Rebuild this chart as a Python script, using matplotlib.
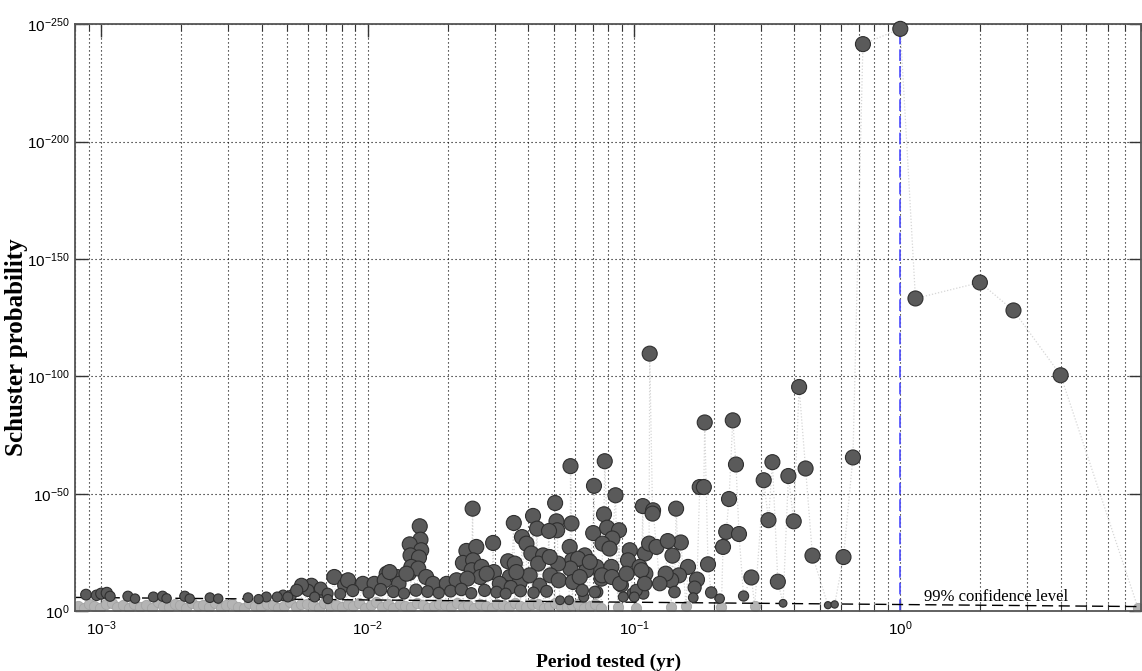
import numpy as np
import matplotlib
matplotlib.use("Agg")
import matplotlib.pyplot as plt
from matplotlib.ticker import LogLocator, FixedLocator, NullFormatter

plt.rcParams["mathtext.fontset"] = "custom"
plt.rcParams["mathtext.rm"] = "Liberation Sans"
plt.rcParams["font.family"] = "Liberation Sans"

# periods significant at the 99% level (yr) and -log10 of the Schuster probability
dark_period = [
    1.00, 0.724, 1.14, 1.99, 2.66, 4.00, 0.417, 0.1146, 0.1844, 0.235,
    0.2416, 0.331, 0.307, 0.380, 0.441, 0.664, 0.1766, 0.183, 0.2275, 0.144,
    0.108, 0.118, 0.1175, 0.320, 0.398, 0.222, 0.248, 0.216, 0.468, 0.612,
    0.150, 0.1395, 0.1596, 0.1897, 0.276, 0.347, 0.1725, 0.169, 0.1476, 0.138,
    0.1316, 0.125, 0.142, 0.195, 0.210, 0.167, 0.258, 0.363, 0.535, 0.567,
    0.110, 0.1104, 0.1085,
    0.0578, 0.0777, 0.0708, 0.0853, 0.0506, 0.0583, 0.0512, 0.0515, 0.0772, 0.0703,
    0.0793, 0.0879, 0.0830, 0.0762, 0.0574, 0.0965, 0.0950, 0.114, 0.1215, 0.134,
    0.105, 0.0898, 0.0987, 0.0723, 0.0823, 0.0755, 0.0644, 0.0663, 0.0586, 0.0727,
    0.0648, 0.0571, 0.0528, 0.0418, 0.0354, 0.0433, 0.0480, 0.0380, 0.0395, 0.0412,
    0.0456, 0.0437, 0.0337, 0.0357, 0.0342, 0.0332, 0.0373, 0.0406, 0.0810, 0.0654,
    0.0617, 0.0683, 0.0577, 0.0519, 0.0483, 0.0443, 0.0486, 0.0522, 0.0590, 0.0626,
    0.0640, 0.0713, 0.0759, 0.0826, 0.0885, 0.0938, 0.102, 0.1067, 0.1098, 0.0912,
    0.1003,
    0.0248, 0.0157, 0.0158, 0.0144, 0.0159, 0.0145, 0.0156, 0.0143, 0.0146, 0.0155,
    0.0166, 0.0176, 0.0296, 0.0235, 0.0256, 0.0228, 0.0249, 0.0246, 0.0268, 0.0265,
    0.0298, 0.0362, 0.0075, 0.0082, 0.00845, 0.0096, 0.0106, 0.0118, 0.0116, 0.0129,
    0.0131, 0.0121, 0.0140, 0.0198, 0.0216, 0.0237, 0.0280, 0.0313, 0.0345,
    0.0068, 0.0079, 0.0088, 0.0101, 0.0112, 0.0125, 0.0137, 0.0152, 0.0168, 0.0185,
    0.0205, 0.0225, 0.0245, 0.0275, 0.0305, 0.0330, 0.0375, 0.0420, 0.0470,
    0.00573, 0.00616, 0.00598, 0.00565, 0.00667, 0.00708, 0.00482, 0.00517, 0.00542, 0.00417,
    0.00458, 0.000877, 0.00096, 0.00100, 0.00105, 0.00108, 0.00126, 0.00134, 0.00157, 0.00170,
    0.00176, 0.00206, 0.00215, 0.00256, 0.00275, 0.00356, 0.00390, 0.00502, 0.00633, 0.00710,
]
dark_level = [
    248, 241.5, 133.2, 140.0, 128.1, 100.5, 95.5, 109.7, 80.4, 81.3,
    62.5, 63.5, 55.8, 57.6, 60.8, 65.5, 52.9, 52.9, 47.8, 43.7,
    44.8, 43.0, 41.6, 38.8, 38.3, 33.8, 32.9, 27.4, 23.7, 23.1,
    29.3, 23.7, 18.9, 20.0, 14.4, 12.6, 13.5, 10.1, 15.3, 13.2,
    16.0, 11.8, 8.2, 8.0, 5.4, 5.8, 6.5, 3.4, 2.6, 2.9,
    24.6, 16.0, 7.5,
    61.8, 63.9, 53.4, 49.4, 46.1, 37.4, 38.3, 34.5, 41.3, 33.3,
    35.6, 34.5, 31.0, 28.8, 27.4, 26.0, 21.7, 28.8, 27.4, 29.9,
    18.9, 11.1, 7.5, 18.9, 18.9, 13.9, 21.7, 17.5, 21.7, 8.2,
    6.1, 4.7, 4.7, 40.6, 37.6, 35.2, 34.2, 31.6, 28.8, 24.6,
    23.8, 20.3, 21.3, 20.3, 14.6, 10.3, 12.5, 15.3, 26.7, 23.8,
    22.4, 21.0, 18.2, 20.3, 23.1, 11.1, 15.3, 13.2, 12.5, 14.6,
    8.9, 8.2, 15.3, 14.6, 11.8, 16.0, 8.9, 17.5, 11.8, 6.1,
    6.1,
    43.7, 36.2, 30.5, 28.5, 26.0, 23.8, 22.9, 16.3, 18.9, 18.2,
    14.6, 11.8, 29.1, 25.7, 27.4, 20.6, 21.7, 17.5, 18.9, 14.6,
    16.7, 16.7, 14.6, 11.1, 13.2, 11.8, 11.8, 16.0, 13.2, 14.6,
    11.8, 16.7, 16.0, 11.8, 13.2, 13.9, 16.0, 11.8, 10.3,
    8.1, 7.4, 8.8, 7.9, 9.2, 8.3, 7.6, 9.0, 8.4, 7.8,
    8.6, 9.3, 7.7, 8.9, 8.2, 7.5, 8.7, 7.9, 8.5,
    10.3, 11.1, 8.9, 11.1, 9.7, 7.5, 6.8, 6.8, 8.9, 6.1,
    6.1, 7.1, 6.8, 7.5, 7.8, 6.4, 6.4, 5.4, 6.1, 6.4,
    5.5, 6.4, 5.4, 5.8, 5.4, 5.8, 5.2, 6.1, 6.1, 5.2,
]

# periods below the confidence level
light_period = [
    0.00082, 0.00086, 0.00090, 0.00094, 0.00099, 0.00104, 0.00110, 0.00115, 0.00121, 0.00127,
    0.00133, 0.00140, 0.00147, 0.00155, 0.00163, 0.00171, 0.00180, 0.00189, 0.00198, 0.00208,
    0.00219, 0.00230, 0.00242, 0.00254, 0.00267, 0.00281, 0.00295, 0.00310, 0.00326, 0.00343,
    0.00360, 0.00379, 0.00398, 0.00418, 0.00440, 0.00462, 0.00486, 0.00511, 0.00537, 0.00564,
    0.00593, 0.00624, 0.00655, 0.00689, 0.00724, 0.00761, 0.00800, 0.00841, 0.00884, 0.00929,
    0.00977, 0.0103, 0.0108, 0.0113, 0.0119, 0.0125, 0.0132, 0.0138, 0.0145, 0.0153,
    0.0161, 0.0169, 0.0177, 0.0186, 0.0196, 0.0206, 0.0217, 0.0228, 0.0239, 0.0252,
    0.0264, 0.0278, 0.0292, 0.0307, 0.0323, 0.0339, 0.0357, 0.0375, 0.0394, 0.0414,
    0.0435, 0.0458, 0.0481, 0.0506, 0.0531, 0.0559, 0.0587, 0.0617, 0.0649, 0.0682,
    0.0717, 0.0753, 0.0870, 0.102, 0.138, 0.157, 0.213, 0.284, 7.8,
]
light_level = [
    2.4, 1.6, 3.1, 2.2, 1.3, 2.9, 3.6, 1.9, 2.6, 1.2,
    3.3, 2.0, 2.7, 1.5, 3.8, 2.3, 1.7, 3.0, 2.5, 1.4,
    3.4, 2.1, 2.8, 1.8, 3.5, 1.3, 2.6, 3.1, 2.0, 1.6,
    3.7, 2.4, 1.9, 3.2, 2.7, 1.5, 2.2, 3.9, 1.8, 2.9,
    3.3, 2.5, 1.4, 3.6, 2.1, 2.8, 1.7, 3.0, 2.3, 3.5,
    1.6, 2.6, 3.8, 2.0, 2.9, 1.5, 3.2, 2.4, 1.9, 3.4,
    2.7, 1.3, 2.2, 3.1, 2.5, 1.8, 3.7, 2.0, 2.8, 1.6,
    3.3, 2.3, 1.4, 3.0, 2.6, 1.9, 3.5, 2.1, 1.7, 2.9,
    3.2, 1.5, 2.4, 3.6, 2.0, 1.8, 2.7, 3.1, 1.6, 2.3,
    2.9, 1.4, 1.8, 1.6, 2.0, 2.3, 1.7, 2.2, 1.5,
]

# 99% confidence level at the ends of the period range
conf_period = [8e-4, 8.0]
conf_level = [5.9, 2.0]

peak_period = 1.0
ytick_vals = [0, 50, 100, 150, 200, 250]
xtick_vals = [1e-3, 1e-2, 1e-1, 1e0]

fig = plt.figure(figsize=(11.42, 6.71), dpi=100)
ax = fig.add_axes([0.066, 0.089, 0.933, 0.875])
ax.set_xscale("log")
ax.set_xlim(8e-4, 8.0)
ax.set_ylim(0, 250)

# grid
dots = (0, (1, 2.6))
ax.xaxis.set_major_locator(FixedLocator(xtick_vals))
ax.xaxis.set_minor_locator(LogLocator(base=10, subs=np.arange(2, 10), numticks=20))
ax.xaxis.set_minor_formatter(NullFormatter())
ax.set_xticks(xtick_vals)
ax.set_xticklabels([r"$\mathregular{10^{%d}}$" % int(np.log10(v)) for v in xtick_vals])
ax.set_yticks(ytick_vals)
ax.set_yticklabels([r"$\mathregular{10^{%d}}$" % (-v) if v else r"$\mathregular{10^{0}}$"
                    for v in ytick_vals])
ax.grid(True, which="major", color="black", linestyle=dots, linewidth=0.8)
ax.grid(True, which="minor", axis="x", color="black", linestyle=dots, linewidth=0.8)
ax.set_axisbelow(True)

ax.tick_params(which="both", direction="in", top=True, right=True, labelsize=11,
               color="#333333")
ax.tick_params(which="major", length=9, width=1.0, pad=6)
ax.tick_params(which="minor", length=5, width=0.8)
ax.tick_params(axis="y", pad=4)
for s in ax.spines.values():
    s.set_color("#555555")
    s.set_linewidth(1.3)

# all tested periods joined in order
all_p = np.array(dark_period + light_period)
all_v = np.array(dark_level + light_level)
order = np.argsort(all_p)
ax.plot(all_p[order], all_v[order], color="#d6d6d6", linestyle=(0, (1, 1.5)),
        linewidth=0.9, zorder=1.5)

ax.axvline(peak_period, color="#4b4bff", linestyle=(0, (7, 3)), linewidth=1.2, zorder=1.8)

ax.scatter(light_period, light_level, s=55, facecolor="#b4b4b4", edgecolor="#a4a4a4",
           linewidth=0.6, zorder=2)

ax.plot(conf_period, conf_level, color="black", linestyle=(0, (8, 4)), linewidth=1.0,
        zorder=2.5)
ax.text(1.23, 6.0, "99% confidence level", family="Liberation Serif", fontsize=12,
        ha="left", va="center", zorder=4)

dv = np.array(dark_level)
diam = np.minimum(15, 5 + 0.8 * dv)
ax.scatter(dark_period, dark_level, s=(diam * 0.72) ** 2, facecolor="#5a5a5a",
           edgecolor="#2f2f2f", linewidth=0.8, zorder=3, clip_on=False)

ax.set_xlabel("Period tested (yr)", family="Liberation Serif", fontweight="bold",
              fontsize=14, labelpad=11)
ax.set_ylabel("Schuster probability", family="Liberation Serif", fontweight="bold",
              fontsize=18)
ax.yaxis.set_label_coords(-0.044, 0.45)

fig.savefig("out.png", dpi=100)
